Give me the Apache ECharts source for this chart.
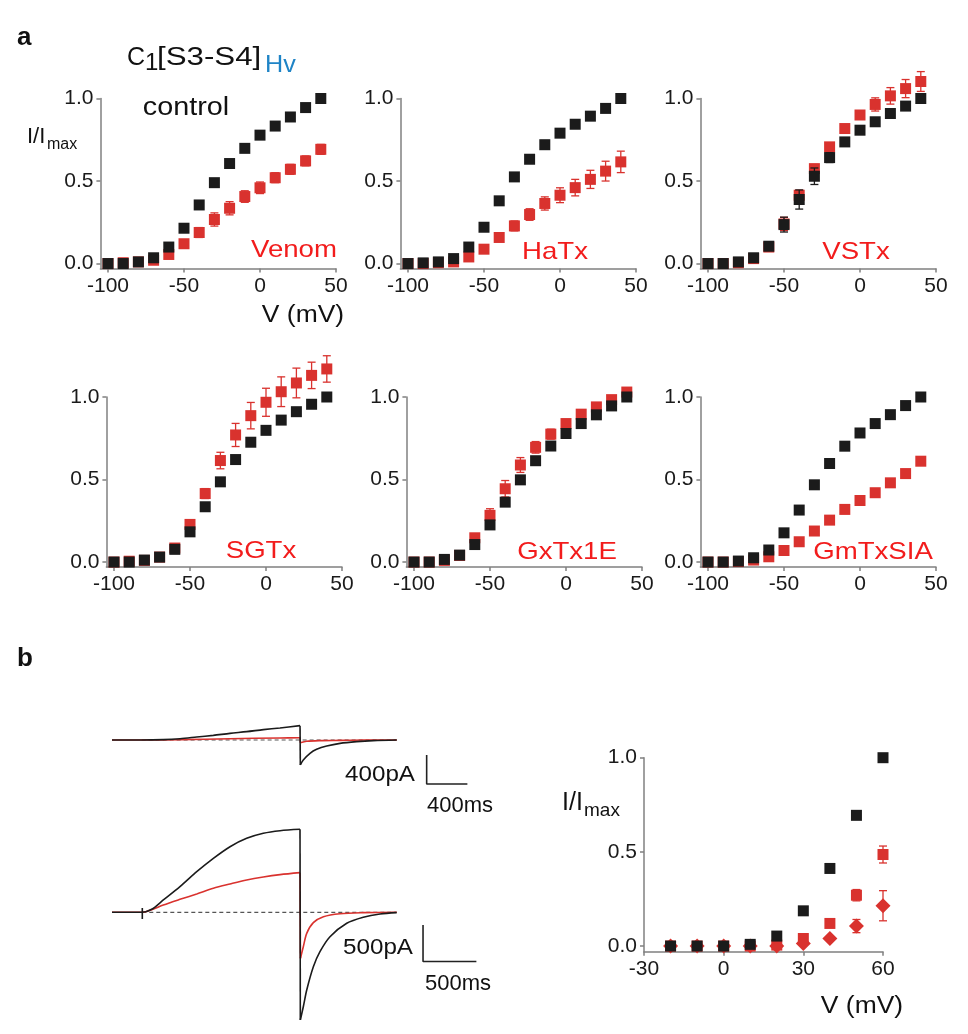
<!DOCTYPE html>
<html><head><meta charset="utf-8">
<script src="https://cdn.jsdelivr.net/npm/echarts@6/dist/echarts.min.js"></script>
<style>html,body{margin:0;padding:0;background:#fff}#c{width:968px;height:1034px}</style>
</head><body><div id="c"></div>
<script>
// ---------- DATA ----------
const V = [-100,-90,-80,-70,-60,-50,-40,-30,-20,-10,0,10,20,30,40];
const xTicksA = [-100,-50,0,50];
const yTicks = [0,0.5,1.0];

const venomCtrl = [0,0,0.01,0.035,0.1,0.214,0.355,0.49,0.606,0.698,0.778,0.833,0.888,0.945,1.0];
const venomCtrlErr = [0,0,0,0.005,0.01,0.01,0.01,0.01,0.01,0.01,0.01,0.01,0.01,0.01,0];
const venomTox = [0,0.005,0.01,0.02,0.055,0.12,0.188,0.267,0.335,0.406,0.459,0.52,0.571,0.622,0.692];
const venomToxErr = [0,0,0,0.005,0.01,0.015,0.03,0.04,0.04,0.035,0.035,0.03,0.03,0.03,0.03];

const hatxCtrl = [0,0.004,0.01,0.03,0.1,0.22,0.38,0.525,0.632,0.72,0.79,0.844,0.893,0.94,1.0];
const hatxCtrlErr = [0,0,0,0.01,0.01,0.01,0.025,0.025,0.025,0.025,0.02,0.01,0.01,0.01,0];
const hatxTox = [0,0,0.005,0.01,0.04,0.087,0.158,0.228,0.297,0.364,0.414,0.46,0.51,0.56,0.616];
const hatxToxErr = [0,0,0,0,0.01,0.01,0.015,0.03,0.035,0.04,0.045,0.05,0.055,0.06,0.065];

const vstxCtrl = [0,0,0.01,0.035,0.105,0.236,0.388,0.529,0.642,0.737,0.808,0.859,0.909,0.954,1.0];
const vstxCtrlErr = [0,0,0,0.005,0.01,0.045,0.058,0.05,0.03,0.02,0.01,0.01,0.01,0.01,0];
const vstxTox = [0,0,0.005,0.03,0.1,0.24,0.414,0.575,0.707,0.818,0.9,0.964,1.016,1.06,1.103];
const vstxToxErr = [0,0,0,0,0.01,0.04,0.03,0.025,0.02,0.015,0.02,0.04,0.05,0.055,0.06];

const sgtxCtrl = [0,0,0.012,0.03,0.077,0.183,0.335,0.486,0.621,0.726,0.798,0.86,0.911,0.956,1.0];
const sgtxCtrlErr = [0,0,0,0,0.01,0.01,0.02,0.02,0.02,0.01,0.01,0.01,0.01,0.01,0];
const sgtxTox = [0,0.005,0.01,0.03,0.085,0.228,0.415,0.615,0.77,0.887,0.968,1.032,1.085,1.131,1.17];
const sgtxToxErr = [0,0,0,0,0.01,0.01,0.03,0.05,0.07,0.08,0.085,0.09,0.09,0.08,0.08];

const gxtxCtrl = [0,0,0.016,0.042,0.106,0.225,0.363,0.498,0.614,0.703,0.779,0.839,0.892,0.946,1.0];
const gxtxCtrlErr = [0,0,0,0.005,0.01,0.025,0.025,0.015,0.01,0.01,0.01,0.01,0.01,0.01,0];
const gxtxTox = [0,0,0.01,0.04,0.147,0.283,0.444,0.588,0.695,0.775,0.839,0.896,0.94,0.984,1.03];
const gxtxToxErr = [0,0,0,0.005,0.01,0.04,0.05,0.045,0.035,0.03,0.025,0.02,0.02,0.02,0.02];

const gmtxCtrl = [0,0,0.006,0.026,0.073,0.177,0.315,0.468,0.597,0.702,0.782,0.839,0.893,0.948,1.0];
const gmtxCtrlErr = [0,0,0,0,0.005,0.005,0.005,0.005,0.005,0.005,0.005,0.005,0.005,0.005,0];
const gmtxTox = [0,0,0.003,0.012,0.032,0.07,0.123,0.188,0.254,0.319,0.373,0.42,0.48,0.536,0.611];
const gmtxToxErr = [0,0,0,0,0.005,0.01,0.01,0.015,0.02,0.025,0.025,0.025,0.025,0.025,0.025];

const toxNames = ['Venom','HaTx','VSTx','SGTx','GxTx1E','GmTxSIA'];

// panel b, right
const Vb = [-20,-10,0,10,20,30,40,50,60];
const xTicksB = [-30,0,30,60];
const bCtrl = [0,0,0,0.009,0.053,0.187,0.412,0.694,1.0];
const bSq = [0,0,0,0,0.005,0.04,0.12,0.27,0.486];
const bSqErr = [0,0,0,0,0,0.01,0.015,0.03,0.045];
const bDia = [0,0,0,0,0,0.014,0.04,0.106,0.214];
const bDiaErr = [0,0,0,0,0,0.01,0.01,0.035,0.08];

// current traces [time ms, current pA]
const topBlackRise = [[0,0],[291,0],[504,5],[668,18],[832,41],[995,64],[1159,92],[1323,115],[1487,143],[1650,166],[1847,198]];
const topBlackDrop = [[1847,198],[1850,-345]];
const topBlackTail = [[1850,-345],[1879,-276],[1945,-184],[2010,-129],[2109,-83],[2240,-46],[2403,-23],[2567,-9],[2797,0]];
const topRedRise = [[0,0],[291,0],[668,5],[1159,18],[1650,28],[1847,32]];
const topRedDrop = [[1847,32],[1850,-37]];
const topRedTail = [[1850,-37],[1912,-18],[2043,-9],[2240,-5],[2469,0],[2797,0]];
const topBaseline = [[291,0],[2797,0]];

const botBlackRise = [[0,0],[284,0],[372,41],[481,168],[637,350],[794,554],[950,736],[1106,895],[1262,1009],[1418,1078],[1575,1113],[1762,1132]];
const botBlackDrop = [[1762,1132],[1765,-1468]];
const botBlackTail = [[1765,-1468],[1793,-1288],[1825,-1060],[1887,-742],[1949,-537],[2043,-333],[2200,-150],[2355,-68],[2512,-23],[2668,-5]];
const botRedRise = [[0,0],[284,0],[372,35],[481,100],[637,177],[794,250],[950,327],[1106,386],[1262,441],[1418,482],[1575,514],[1762,541]];
const botRedDrop = [[1762,541],[1766,-628]];
const botRedTail = [[1766,-628],[1793,-469],[1825,-287],[1887,-141],[1981,-60],[2137,-19],[2355,-5],[2668,0]];
const botBaseline = [[284,0],[2668,0]];
const botArtifact = [[284,60],[284,-90]];

// scale bars: [pA, ms]
const topScale = {pA:400, ms:400};
const botScale = {pA:500, ms:500};

// ---------- STYLE / LAYOUT ----------
const FONT = '"Liberation Sans", Arial, Helvetica, sans-serif';
const BLACK = '#1b1b1b', RED = '#d9322e', LABELRED = '#f21c1c', AXIS = '#808080';
const topBarAnchor = [3091,-207], botBarAnchor = [2915,-172];

const ivGridPos = [
  {left:100.4, top:98.5},{left:400.4, top:98.5},{left:700.4, top:98.5},
  {left:106.4, top:397},{left:406.4, top:397},{left:700.4, top:397}
];
const panels = [
  [venomCtrl,venomCtrlErr,venomTox,venomToxErr],
  [hatxCtrl,hatxCtrlErr,hatxTox,hatxToxErr],
  [vstxCtrl,vstxCtrlErr,vstxTox,vstxToxErr],
  [sgtxCtrl,sgtxCtrlErr,sgtxTox,sgtxToxErr],
  [gxtxCtrl,gxtxCtrlErr,gxtxTox,gxtxToxErr],
  [gmtxCtrl,gmtxCtrlErr,gmtxTox,gmtxToxErr]
];

function errRender(color){
  return function(params, api){
    const x = api.value(0), y = api.value(1), e = api.value(2);
    const hi = api.coord([x, y+e]), lo = api.coord([x, y-e]);
    const w = 4, st = {stroke: color, lineWidth: 1.3};
    return {type:'group', children:[
      {type:'line', shape:{x1:hi[0],y1:hi[1],x2:lo[0],y2:lo[1]}, style:st},
      {type:'line', shape:{x1:hi[0]-w,y1:hi[1],x2:hi[0]+w,y2:hi[1]}, style:st},
      {type:'line', shape:{x1:lo[0]-w,y1:lo[1],x2:lo[0]+w,y2:lo[1]}, style:st}
    ]};
  };
}

const axisLine = {show:true, onZero:false, lineStyle:{color:AXIS, width:1.5}};
const axisTick = (vals)=>({show:true, length:4, customValues:vals, lineStyle:{color:AXIS, width:1.5}});
const axisLabel = (vals, fmt)=>({show:true, customValues:vals, color:'#1a1a1a', fontSize:21, fontFamily:FONT, margin:7, formatter:fmt});

const grid = [], xAxis = [], yAxis = [], series = [];

function addErr(idx, xs, vals, errs, color, z){
  const d = [];
  xs.forEach((x,k)=>{ if(errs[k]>0) d.push([x, vals[k], errs[k]]); });
  series.push({type:'custom', xAxisIndex:idx, yAxisIndex:idx, data:d, encode:{x:0,y:1},
    renderItem: errRender(color), clip:false, silent:true, z:z});
}
function addPts(idx, xs, vals, color, symbol, size, z){
  series.push({type:'scatter', xAxisIndex:idx, yAxisIndex:idx, data: xs.map((x,k)=>[x, vals[k]]),
    symbol:symbol, symbolSize:size, itemStyle:{color:color, opacity:1}, clip:false, silent:true, z:z});
}

panels.forEach((p, i)=>{
  grid.push({left:ivGridPos[i].left, top:ivGridPos[i].top, width:235.6, height:170});
  xAxis.push({type:'value', gridIndex:i, min:-105, max:50, axisLine, axisTick:axisTick(xTicksA),
    axisLabel:axisLabel(xTicksA, v=>String(v)), splitLine:{show:false}});
  yAxis.push({type:'value', gridIndex:i, min:-0.03, max:1.0, axisLine, axisTick:axisTick(yTicks),
    axisLabel:axisLabel(yTicks, v=>v.toFixed(1)), splitLine:{show:false}});
  addErr(i, V, p[2], p[3], RED, 2);
  addPts(i, V, p[2], RED, 'rect', 11, 3);
  addErr(i, V, p[0], p[1], BLACK, 4);
  addPts(i, V, p[0], BLACK, 'rect', 11, 5);
});

// panel b right
grid.push({left:644, top:757.7, width:239, height:194});
xAxis.push({type:'value', gridIndex:6, min:-30, max:60, interval:30, axisLine, axisTick:axisTick(xTicksB),
  axisLabel:axisLabel(xTicksB, v=>String(v)), splitLine:{show:false}});
yAxis.push({type:'value', gridIndex:6, min:-0.03, max:1.0, axisLine, axisTick:axisTick(yTicks),
  axisLabel:axisLabel(yTicks, v=>v.toFixed(1)), splitLine:{show:false}});
addErr(6, Vb, bDia, bDiaErr, RED, 2);
addPts(6, Vb, bDia, RED, 'diamond', 15, 3);
addErr(6, Vb, bSq, bSqErr, RED, 2);
addPts(6, Vb, bSq, RED, 'rect', 11, 3);
addPts(6, Vb, bCtrl, BLACK, 'rect', 11, 5);

// trace grids
grid.push({left:112, top:718.25, width:407.2, height:72.5});
grid.push({left:112, top:817, width:426.8, height:212.6});
xAxis.push({type:'value', gridIndex:7, min:0, max:4000, show:false});
yAxis.push({type:'value', gridIndex:7, min:-700, max:300, show:false});
xAxis.push({type:'value', gridIndex:8, min:0, max:4000, show:false});
yAxis.push({type:'value', gridIndex:8, min:-1600, max:1300, show:false});

function addLine(idx, data, color, opt){
  series.push(Object.assign({type:'line', xAxisIndex:idx, yAxisIndex:idx, data:data, showSymbol:false, symbol:'none',
    lineStyle:{color:color, width:1.6}, silent:true, z:3}, opt||{}));
}
const dash = {lineStyle:{color:'#555', width:1.2, type:[4,3]}, z:2};
addLine(7, topBaseline, '#555', dash);
addLine(7, topRedRise, RED, {smooth:0.3});
addLine(7, topRedDrop, RED);
addLine(7, topRedTail, RED, {smooth:0.3});
addLine(7, topBlackRise, BLACK, {smooth:0.3, z:4});
addLine(7, topBlackDrop, BLACK, {z:4});
addLine(7, topBlackTail, BLACK, {smooth:0.3, z:4});
addLine(8, botBaseline, '#555', dash);
addLine(8, botRedRise, RED, {smooth:0.3});
addLine(8, botRedDrop, RED);
addLine(8, botRedTail, RED, {smooth:0.3});
addLine(8, botBlackRise, BLACK, {smooth:0.3, z:4});
addLine(8, botBlackDrop, BLACK, {z:4});
addLine(8, botBlackTail, BLACK, {smooth:0.3, z:4});
addLine(8, botArtifact, BLACK, {z:5});
// scale bars
const tb = topBarAnchor, bb = botBarAnchor;
addLine(7, [tb, [tb[0], tb[1]-topScale.pA], [tb[0]+topScale.ms, tb[1]-topScale.pA]], '#222', {lineStyle:{color:'#222', width:1.6}});
addLine(8, [bb, [bb[0], bb[1]-botScale.pA], [bb[0]+botScale.ms, bb[1]-botScale.pA]], '#222', {lineStyle:{color:'#222', width:1.6}});

// ---------- TEXT ----------
function T(text, x, y, size, color, align, sx, weight){
  return {type:'text', x:x, y:y, scaleX:sx||1, silent:true, z:10,
    style:{text:text, font:(weight||'normal')+' '+size+'px '+FONT, fill:color||'#111', align:align||'left', verticalAlign:'middle'}};
}
const SX = 1.15;
const toxPos = [[294,250],[555,252],[856,252],[261,551],[567,552],[873,552]];
const elements = [
  T('a', 17, 38, 26, '#111', 'left', 1, 'bold'),
  T('b', 17, 659, 26, '#111', 'left', 1, 'bold'),
  T('C', 127, 58, 25, '#111'),
  T('1', 145, 63, 24, '#111'),
  T('[S3-S4]', 157, 58, 25, '#111', 'left', 1.25),
  T('Hv', 265, 65, 24, '#1f84c6', 'left', 1.05),
  T('control', 186, 108, 25, '#111', 'center', SX),
  T('I/I', 27, 137, 22, '#111'),
  T('max', 47, 145, 16, '#111'),
  T('V (mV)', 303, 316, 23, '#111', 'center', SX),
  T('I/I', 562, 803, 25, '#111'),
  T('max', 584, 811, 19, '#111'),
  T('V (mV)', 862, 1007, 23, '#111', 'center', SX),
  T(topScale.pA+'pA', 415, 775, 22, '#111', 'right', 1.1),
  T(topScale.ms+'ms', 427, 806, 22, '#111', 'left', 1.0),
  T(botScale.pA+'pA', 413, 948, 22, '#111', 'right', 1.1),
  T(botScale.ms+'ms', 425, 984, 22, '#111', 'left', 1.0)
];
toxNames.forEach((n,i)=>elements.push(T(n, toxPos[i][0], toxPos[i][1], 24, LABELRED, 'center', SX)));

const chart = echarts.init(document.getElementById('c'), null, {renderer:'canvas'});
chart.setOption({animation:false, backgroundColor:'#fff', grid, xAxis, yAxis, series, graphic:{elements}});
</script></body></html>
